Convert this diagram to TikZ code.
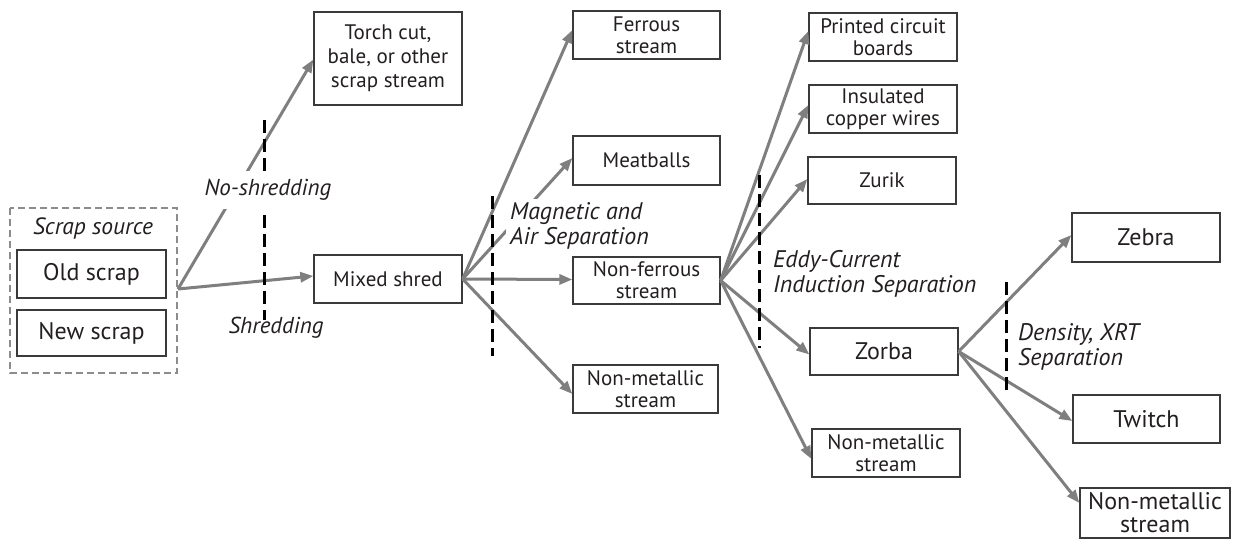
\documentclass[tikz,border=0pt]{standalone}
\usepackage{fontspec}
\setmainfont{PT Sans}
\usetikzlibrary{arrows.meta}
\definecolor{flow}{HTML}{7F7F7F}
\definecolor{frame}{HTML}{3A3A3A}
\definecolor{ink}{HTML}{231F20}
\definecolor{srcframe}{HTML}{8C8C8C}
\tikzset{
  px/.style={x=1pt,y=-1pt},
  stepbox/.style={draw=frame, line width=1.3pt, fill=white, align=center,
    inner sep=0pt, text=ink, font=\fontsize{21}{22}\selectfont},
  bigbox/.style={stepbox, font=\fontsize{24}{26}\selectfont},
  flowline/.style={draw=flow, line width=3pt,
    -{Triangle[length=13pt,width=10pt]}},
  stage/.style={draw=black, line width=3pt, dash pattern=on 13pt off 6pt},
  stagelabel/.style={font=\itshape\fontsize{24}{25}\selectfont, text=ink,
    align=left, inner sep=2pt},
}
\begin{document}
\begin{tikzpicture}[px]
\clip (0,0) rectangle (1233,538);
\fill[white] (0,0) rectangle (1233,538);

% scrap source group
\draw[srcframe, line width=1.4pt, dash pattern=on 7pt off 4pt]
  (10,208) rectangle (177,373);
\node[stagelabel, font=\itshape\fontsize{23.5}{25}\selectfont, inner sep=0pt] (srclabel) at (93,228) {Scrap source};
\node[bigbox, minimum width=149pt, minimum height=48pt] (old) at (91.5,274) {Old scrap};
\node[bigbox, minimum width=149pt, minimum height=46pt] (new) at (91.5,333) {New scrap};
\coordinate (src) at (178,289);

% process boxes
\node[stepbox, minimum width=148pt, minimum height=93pt, font=\fontsize{21}{24}\selectfont] (torch) at (388,58.5) {Torch cut,\\bale, or other\\scrap stream};
\node[stepbox, minimum width=148pt, minimum height=48pt] (mixed) at (388,279) {Mixed shred};
\node[stepbox, minimum width=147pt, minimum height=48pt] (ferrous) at (646.5,35) {Ferrous\\stream};
\node[stepbox, minimum width=147pt, minimum height=49pt] (meat) at (646.5,160.5) {Meatballs};
\node[stepbox, minimum width=147pt, minimum height=47pt] (nonfe) at (646.5,280.5) {Non-ferrous\\stream};
\node[stepbox, minimum width=145pt, minimum height=48pt] (nmA) at (645.5,389) {Non-metallic\\stream};
\node[stepbox, minimum width=148pt, minimum height=48pt] (pcb) at (883,37) {Printed circuit\\boards};
\node[stepbox, minimum width=148pt, minimum height=48pt] (icw) at (883,109) {Insulated\\copper wires};
\node[stepbox, minimum width=148pt, minimum height=47pt] (zurik) at (882,180.5) {Zurik};
\node[bigbox, minimum width=148pt, minimum height=47pt] (zorba) at (884,351.5) {Zorba};
\node[stepbox, minimum width=148pt, minimum height=48pt] (nmB) at (886,453) {Non-metallic\\stream};
\node[bigbox, minimum width=148pt, minimum height=49pt] (zebra) at (1146,237.5) {Zebra};
\node[bigbox, minimum width=147pt, minimum height=48pt] (twitch) at (1146.5,419) {Twitch};
\node[stepbox, minimum width=150pt, minimum height=50pt, font=\fontsize{24}{23}\selectfont] (nmC) at (1155,513) {Non-metallic\\stream};

% flows
\draw[flowline] (src) -- ([yshift=-1pt]torch.west);
\draw[flowline] (src) -- ([yshift=3pt]mixed.west);
\draw[flowline] (mixed.east) -- ([yshift=5pt]ferrous.west);
\draw[flowline] (mixed.east) -- ([yshift=2.5pt]meat.west);
\draw[flowline] (mixed.east) -- ([yshift=1pt]nonfe.west);
\draw[flowline] (mixed.east) -- ([yshift=-5pt]nmA.west);
\draw[flowline] (nonfe.east) -- ([yshift=6pt]pcb.west);
\draw[flowline] (nonfe.east) -- ([yshift=4pt]icw.west);
\draw[flowline] (nonfe.east) -- ([yshift=1.5pt]zurik.west);
\draw[flowline] (nonfe.east) -- ([yshift=-3pt]zorba.west);
\draw[flowline] (nonfe.east) -- ([yshift=-6pt]nmB.west);
\draw[flowline] (zorba.east) -- ([yshift=2.5pt]zebra.west);
\draw[flowline] (zorba.east) -- ([yshift=-2pt]twitch.west);
\draw[flowline] (zorba.east) -- ([yshift=10pt]nmC.west);

% stage boundaries
\coordinate (sA1) at (264,120); \coordinate (sA2) at (264,320);
\coordinate (sB1) at (492,196); \coordinate (sB2) at (492,356);
\coordinate (sC1) at (759,175); \coordinate (sC2) at (759,348);
\coordinate (sD1) at (1006,282); \coordinate (sD2) at (1006,390);
\draw[stage] (sA1) -- (sA2);
\draw[stage] (sB1) -- (sB2);
\draw[stage] (sC1) -- (sC2);
\draw[stage] (sD1) -- (sD2);

% stage labels
\node[stagelabel, font=\itshape\fontsize{23}{25}\selectfont, fill=white, inner xsep=2pt, inner ysep=8pt] (noshred) at (268,190) {No-shredding};
\node[stagelabel, font=\itshape\fontsize{23}{25}\selectfont] (shred) at (276,328) {Shredding};
\node[stagelabel, fill=white, anchor=west, inner sep=4pt] (magsep) at (506,226) {Magnetic and\\Air Separation};
\node[stagelabel, anchor=west] (eddy) at (771,274) {Eddy-Current\\Induction Separation};
\node[stagelabel, anchor=west] (density) at (1016,347) {Density, XRT\\Separation};
\end{tikzpicture}
\end{document}
